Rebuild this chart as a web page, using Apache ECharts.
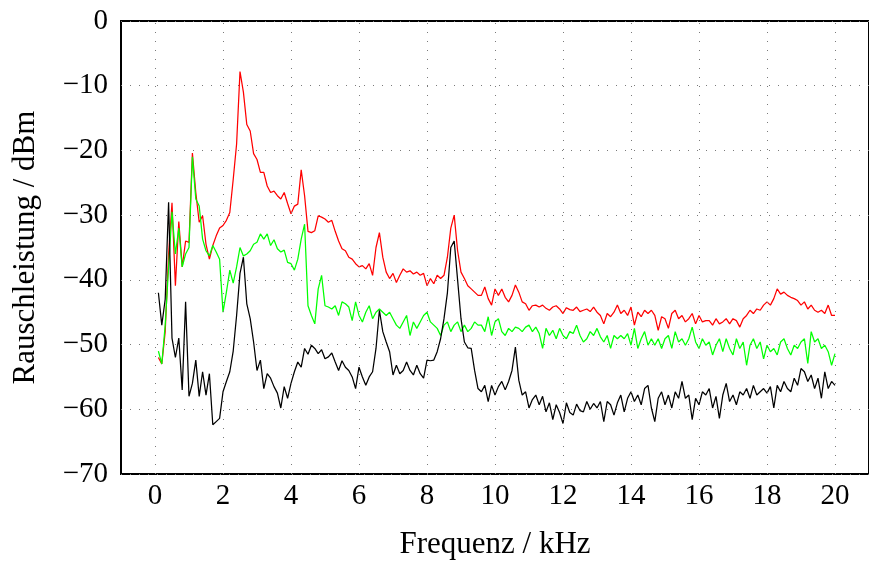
<!DOCTYPE html>
<html>
<head>
<meta charset="utf-8">
<script src="https://cdn.jsdelivr.net/npm/echarts@6/dist/echarts.min.js"></script>
<style>
  html, body { margin: 0; padding: 0; background: #fff; }
  #chart { width: 869px; height: 565px; }
</style>
</head>
<body>
<div id="chart"></div>
<script>
// Spectra sampled every 0.1 kHz from 0.1 kHz to 20.0 kHz (dBm)
const freqStep = 0.1;

const noiseRed = [
  -52, -53, -48, -36, -28.1, -40.9, -31, -38, -34, -34.2,
  -20.4, -26.5, -31.1, -30.1, -34.5, -36.8, -34.7, -33.2, -32, -31.6,
  -30.8, -29.6, -24.5, -19, -7.8, -11, -16, -17, -20.5, -21.4,
  -23.4, -23.4, -25.5, -26.5, -26.3, -27, -27.5, -26.5, -28.2, -29.8,
  -28.6, -28.3, -23, -27, -32.5, -32.7, -32.4, -30.1, -30.3, -30.6,
  -31.1, -30.8, -32.5, -34, -35.2, -35.5, -36.5, -36.8, -37.5, -38,
  -37.8, -38.3, -37.5, -39.3, -35, -32.7, -36.5, -38.8, -39.8, -39,
  -40.4, -39.3, -38.3, -38.8, -38.6, -39.1, -38.8, -39.3, -39, -40.9,
  -39.8, -40.6, -39.3, -39.8, -39.3, -36.5, -32, -30, -35.5, -38.8,
  -39.8, -40.9, -41.4, -41.9, -42.4, -42.4, -41.1, -42.9, -43.9, -41.4,
  -42.4, -41.4, -42.7, -43.4, -42.4, -40.8, -41.9, -43.4, -43.7, -44.7,
  -44, -43.9, -44.2, -43.9, -44.4, -44.7, -44.2, -44, -44.5, -45.2,
  -44.3, -44.6, -44.7, -44.2, -44.9, -44.7, -44.5, -44.9, -44.2, -45,
  -45.5, -46.8, -45.2, -45.7, -45, -43.9, -45.2, -44.7, -45.5, -44.2,
  -47, -45, -45.7, -44.7, -45.2, -44.7, -45.5, -47.8, -45.7, -46,
  -47.5, -45.2, -44.7, -46, -45.5, -46.5, -46, -45.2, -46.8, -45.5,
  -46.5, -46.3, -46.3, -47, -46, -46.8, -46.5, -46, -46.8, -46,
  -46.3, -47.3, -46, -45.5, -44.7, -45.2, -44.5, -44.7, -43.9, -43.4,
  -43.9, -42.9, -41.4, -42.2, -41.9, -42.4, -42.7, -42.9, -43.2, -43.9,
  -43.4, -44.5, -43.9, -44.7, -45, -44.7, -45.2, -43.9, -45.5, -45.5
];

const noiseGreen = [
  -51, -53, -47, -38, -29.5, -36, -32, -38, -36, -35,
  -21, -27.5, -28.6, -33.7, -35.5, -36.3, -34.7, -35.7, -36.8, -45,
  -41.9, -38.5, -40.5, -38, -35, -36.3, -36, -35.5, -34.5, -34.2,
  -32.9, -33.7, -32.9, -34.7, -33.8, -35.2, -35.7, -35.4, -37.3, -37.5,
  -38.5, -36.8, -33.7, -31.4, -44, -45.5, -46.8, -41.4, -39.3, -44,
  -44.2, -44.5, -44, -45.5, -43.4, -43.7, -44.2, -46.3, -43.4, -45.5,
  -46.5, -45, -44, -46, -45, -44.5, -45, -45.5, -45, -46,
  -47, -47.5, -46.5, -45.5, -48.6, -46.5, -47.5, -46.5, -45.5, -45,
  -46.5, -47, -47.5, -48.6, -47, -46.5, -48, -47, -46.5, -48,
  -47, -48, -47.5, -46.5, -47, -47, -48, -45.7, -48.6, -46.5,
  -46, -48, -48.6, -47.5, -48, -47.3, -47.5, -48, -47.3, -47,
  -48, -47.3, -48.3, -50.6, -47.5, -48.6, -47.8, -49.1, -47.5, -48.6,
  -49.1, -48, -48.3, -47, -48.6, -49.6, -49.1, -48, -48.6, -47.5,
  -48.8, -49.6, -48.6, -50.6, -48.6, -49.1, -48.6, -49.1, -48.3, -50.1,
  -47.5, -50.6, -49.1, -48, -50.1, -49.1, -50.1, -49.1, -50.6, -49.1,
  -48.6, -50.6, -48, -49.6, -49.1, -50.1, -49.1, -47.3, -49.6, -50.6,
  -49.1, -50.1, -49.6, -51.6, -50.1, -49.1, -51.1, -49.1, -50.6, -51.6,
  -49.1, -50.6, -49.6, -53.2, -50.1, -49.1, -50.6, -49.6, -52.2, -50.1,
  -51.1, -50.6, -51.6, -49.6, -49.1, -50.6, -51.6, -50.1, -50.6, -49.6,
  -49.1, -52.9, -48, -49.6, -49.1, -50.6, -50.1, -51.1, -53.2, -51.4
];

const noiseBlack = [
  -42, -47, -43, -28, -49, -52, -49, -57, -43.4, -58,
  -56, -52.4, -58, -54.2, -57.8, -54.5, -62.4, -61.9, -61.4, -57.3,
  -55.7, -54.2, -51, -45.5, -39, -36.5, -43.7, -46, -49.6, -54,
  -52.4, -56.8, -54.5, -55.2, -56.5, -57.5, -59.8, -56.5, -58.3, -56,
  -54.2, -52.7, -53.5, -50.6, -51.5, -50.1, -50.6, -51.4, -50.8, -52.2,
  -51.9, -51.3, -52.7, -54, -52.5, -53.5, -54, -55, -56.8, -53.5,
  -55, -56.3, -55, -54.2, -50.6, -44.7, -48, -49.6, -51.1, -54.7,
  -53.2, -54.5, -54, -52.7, -54, -54.7, -53.2, -54.5, -55.2, -52.4,
  -52.5, -52.4, -51.1, -49.1, -46, -42, -35, -34, -40, -46,
  -49.6, -50.5, -50.6, -54, -56.8, -57.3, -56.3, -58.8, -56.3, -57.8,
  -56.5, -55.7, -57, -55.7, -54, -50.4, -55.5, -57.8, -57.3, -59.8,
  -58.5, -57.8, -59.3, -58, -60.4, -59, -61.6, -59.3, -60.5, -62.2,
  -59, -60.5, -60.9, -59.2, -60.2, -60.4, -58.8, -60, -59.1, -59.8,
  -58.8, -61.9, -58.8, -59.3, -60.9, -59, -57.8, -60.4, -58.3, -57.3,
  -58.8, -57.8, -59.3, -56.8, -56.3, -59.8, -61.9, -58.3, -57.3, -59.3,
  -57.8, -59.8, -57.3, -58.3, -55.7, -58.3, -57.8, -61.6, -58.3, -59.3,
  -57.3, -57.8, -56.8, -59.8, -58, -61.4, -57.8, -56, -58.8, -57.8,
  -59.3, -57.3, -57.8, -56.8, -58.3, -56.3, -57.8, -57.3, -56.8, -57.5,
  -56.5, -59.8, -56.3, -57.3, -55.7, -56.8, -57.3, -55.2, -56.3, -53.7,
  -54.2, -55.7, -54.7, -56.8, -55.2, -58.3, -54.2, -56.8, -55.7, -56.3
];

const xTicks = [0, 2, 4, 6, 8, 10, 12, 14, 16, 18, 20];
const yTicks = [0, -10, -20, -30, -40, -50, -60, -70];

function pairs(values) {
  return values.map((v, i) => [Number(((i + 1) * freqStep).toFixed(1)), v]);
}

const serif = '"Liberation Serif", "DejaVu Serif", serif';
const minus = v => (v < 0 ? '\u2212' + Math.abs(v) : String(v));
const dotted = { color: '#7a7a7a', width: 1, type: [1, 8] };

const chart = echarts.init(document.getElementById('chart'), null, { renderer: 'canvas' });

function line(name, values, color) {
  return {
    name, type: 'line', data: pairs(values), showSymbol: false, symbol: 'none',
    lineStyle: { color, width: 1.25 }, animation: false, z: 3
  };
}

chart.setOption({
  animation: false,
  backgroundColor: '#fff',
  grid: {
    left: 121, top: 21, width: 755.7, height: 455,
    show: true, borderColor: '#000', borderWidth: 2, backgroundColor: 'transparent'
  },
  xAxis: {
    type: 'value', min: -1, max: 21,
    name: 'Frequenz / kHz', nameLocation: 'middle', nameGap: 55,
    nameTextStyle: { fontFamily: serif, fontSize: 31, color: '#000' },
    axisLine: { show: false },
    axisTick: { show: false, customValues: xTicks },
    axisLabel: { customValues: xTicks, fontFamily: serif, fontSize: 29, color: '#000', margin: 8, formatter: minus },
    splitLine: { show: false }
  },
  yAxis: {
    type: 'value', min: -70, max: 0, interval: 10,
    name: 'Rauschleistung / dBm', nameLocation: 'middle', nameGap: 80, nameRotate: 90,
    nameTextStyle: { fontFamily: serif, fontSize: 31, color: '#000' },
    axisLine: { show: false },
    axisTick: { show: false },
    axisLabel: { fontFamily: serif, fontSize: 29, color: '#000', margin: 13, formatter: minus },
    splitLine: { show: true, lineStyle: dotted }
  },
  series: [
    {
      // vertical grid lines at the labelled frequencies
      name: 'raster', type: 'line', data: [], z: 1, silent: true,
      markLine: {
        silent: true, symbol: ['none', 'none'], label: { show: false },
        lineStyle: dotted, animation: false,
        data: xTicks.map(v => ({ xAxis: v }))
      }
    },
    line('rot', noiseRed, '#ff0000'),
    line('grün', noiseGreen, '#00ff00'),
    line('schwarz', noiseBlack, '#000000')
  ]
});
</script>
</body>
</html>
